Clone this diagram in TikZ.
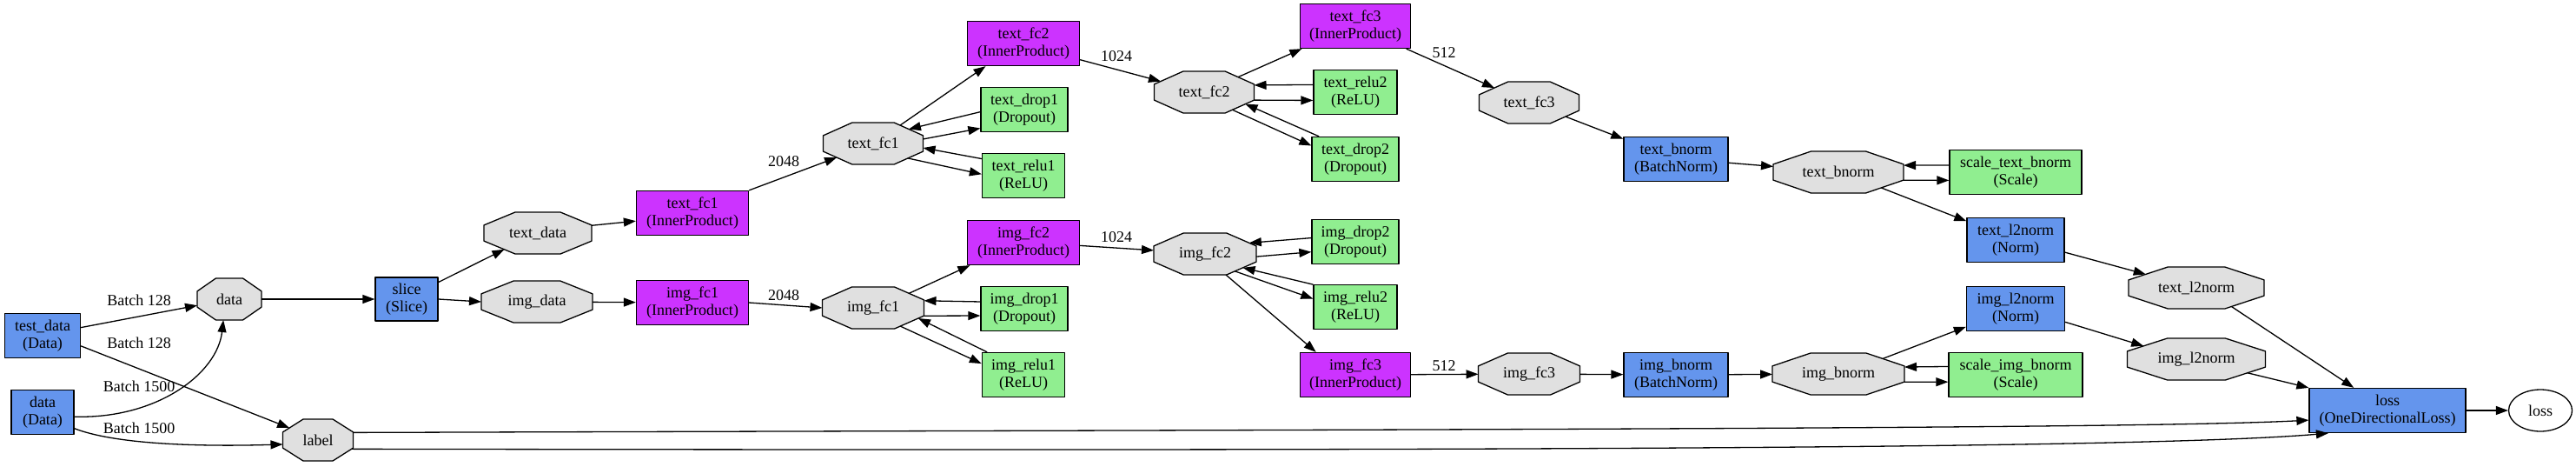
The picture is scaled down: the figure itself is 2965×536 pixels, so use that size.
\documentclass[tikz,border=0pt]{standalone}
\usepackage{fontspec}
\setmainfont{Liberation Serif}
\usetikzlibrary{shapes.geometric,arrows.meta}
\definecolor{layerblue}{HTML}{6495ED}
\definecolor{ipviolet}{HTML}{CC33FF}
\definecolor{neurongreen}{HTML}{90EE90}
\definecolor{blobgray}{HTML}{E0E0E0}
% stretched octagon, as dot draws it
\makeatletter
\pgfdeclareshape{octa}{%
	\inheritsavedanchors[from=rectangle]%
	\inheritanchor[from=rectangle]{center}%
	\inheritanchor[from=rectangle]{text}%
	\inheritanchor[from=rectangle]{base}%
	\inheritanchor[from=rectangle]{mid}%
	\inheritanchor[from=rectangle]{north}%
	\inheritanchor[from=rectangle]{south}%
	\inheritanchor[from=rectangle]{east}%
	\inheritanchor[from=rectangle]{west}%
	\backgroundpath{%
		\southwest \pgf@xa=\pgf@x \pgf@ya=\pgf@y
		\northeast \pgf@xb=\pgf@x \pgf@yb=\pgf@y
		\pgf@xc=\pgf@xb \advance\pgf@xc by -\pgf@xa \pgf@xc=.29\pgf@xc
		\pgf@yc=\pgf@yb \advance\pgf@yc by -\pgf@ya \pgf@yc=.31\pgf@yc
		\edef\oct@xa{\the\pgf@xa}\edef\oct@xb{\the\pgf@xb}%
		\edef\oct@ya{\the\pgf@ya}\edef\oct@yb{\the\pgf@yb}%
		\advance\pgf@xa by \pgf@xc \advance\pgf@xb by -\pgf@xc
		\advance\pgf@ya by \pgf@yc \advance\pgf@yb by -\pgf@yc
		\edef\oct@xc{\the\pgf@xa}\edef\oct@xd{\the\pgf@xb}%
		\edef\oct@yc{\the\pgf@ya}\edef\oct@yd{\the\pgf@yb}%
		\pgfpathmoveto{\pgfqpoint{\oct@xc}{\oct@ya}}%
		\pgfpathlineto{\pgfqpoint{\oct@xd}{\oct@ya}}%
		\pgfpathlineto{\pgfqpoint{\oct@xb}{\oct@yc}}%
		\pgfpathlineto{\pgfqpoint{\oct@xb}{\oct@yd}}%
		\pgfpathlineto{\pgfqpoint{\oct@xd}{\oct@yb}}%
		\pgfpathlineto{\pgfqpoint{\oct@xc}{\oct@yb}}%
		\pgfpathlineto{\pgfqpoint{\oct@xa}{\oct@yd}}%
		\pgfpathlineto{\pgfqpoint{\oct@xa}{\oct@yc}}%
		\pgfpathclose
	}%
	\anchorborder{%
		\edef\oct@dx{\pgf@sys@tonumber\pgf@x}\edef\oct@dy{\pgf@sys@tonumber\pgf@y}%
		\southwest \edef\oct@xa{\pgf@sys@tonumber\pgf@x}\edef\oct@ya{\pgf@sys@tonumber\pgf@y}%
		\northeast \edef\oct@xb{\pgf@sys@tonumber\pgf@x}\edef\oct@yb{\pgf@sys@tonumber\pgf@y}%
		\pgfmathsetmacro\oct@A{((\oct@xb)-(\oct@xa))/2}%
		\pgfmathsetmacro\oct@B{((\oct@yb)-(\oct@ya))/2}%
		\pgfmathsetmacro\oct@len{max(veclen(\oct@dx,\oct@dy),0.0001)}%
		\pgfmathsetmacro\oct@ux{(\oct@dx)/\oct@len}%
		\pgfmathsetmacro\oct@uy{(\oct@dy)/\oct@len}%
		\pgfmathsetmacro\oct@ax{max(abs(\oct@ux),0.01)}%
		\pgfmathsetmacro\oct@ay{max(abs(\oct@uy),0.01)}%
		\pgfmathsetmacro\oct@R{min(min(\oct@A/\oct@ax,\oct@B/\oct@ay),0.8404*\oct@A*\oct@B/(0.62*\oct@B*\oct@ax+0.58*\oct@A*\oct@ay))}%
		\pgfmathsetlength\pgf@x{((\oct@xa)+(\oct@xb))/2+\oct@R*(\oct@ux)}%
		\pgfmathsetlength\pgf@y{((\oct@ya)+(\oct@yb))/2+\oct@R*(\oct@uy)}%
	}%
}
\makeatother
\begin{document}
\begin{tikzpicture}[x=1pt, y=-1pt, font=\fontsize{18}{20}\selectfont, line join=round, line width=1.3pt, >={Triangle[length=14pt,width=10pt]},
	layerbox/.style={draw=black, fill=layerblue, rectangle, align=center, inner sep=0pt, minimum height=51pt, minimum width=#1},
	ip/.style={layerbox=#1, fill=ipviolet},
	neuron/.style={layerbox=#1, fill=neurongreen},
	blob/.style={draw=black, fill=blobgray, octa, inner sep=0pt, outer sep=0pt, minimum height=48pt, minimum width=#1},
	elabel/.style={inner sep=1pt}]
	
	\useasboundingbox (0,0) rectangle (2965,536);
	
	\node[layerbox=87pt] (Ltest) at (49,386) {test\_data\\(Data)};
	\node[layerbox=72pt] (Ldata) at (49,474) {data\\(Data)};
	\node[blob=74pt] (Bdata) at (264,344) {data};
	\node[blob=81pt] (Blabel) at (366,506) {label};
	\node[layerbox=72pt, minimum height=50pt] (Lslice) at (468,344) {slice\\(Slice)};
	\node[blob=124pt] (Btdata) at (619,268) {text\_data};
	\node[blob=128pt] (Bidata) at (618,347) {img\_data};
	\node[ip=129pt] (Ltfc1) at (797,245) {text\_fc1\\(InnerProduct)};
	\node[ip=129pt] (Lifc1) at (797,348) {img\_fc1\\(InnerProduct)};
	\node[blob=115pt] (Btfc1) at (1005,165) {text\_fc1};
	\node[blob=117pt] (Bifc1) at (1005,354) {img\_fc1};
	\node[ip=129pt] (Ltfc2) at (1178,50) {text\_fc2\\(InnerProduct)};
	\node[neuron=100pt] (Ltdrop1) at (1179,126) {text\_drop1\\(Dropout)};
	\node[neuron=95pt] (Ltrelu1) at (1178,202) {text\_relu1\\(ReLU)};
	\node[ip=129pt] (Lifc2) at (1178,279) {img\_fc2\\(InnerProduct)};
	\node[neuron=100pt] (Lidrop1) at (1179,355) {img\_drop1\\(Dropout)};
	\node[neuron=95pt] (Lirelu1) at (1178,431) {img\_relu1\\(ReLU)};
	\node[blob=115pt] (Btfc2) at (1386,106) {text\_fc2};
	\node[blob=118pt] (Bifc2) at (1387,292) {img\_fc2};
	\node[ip=127pt] (Ltfc3) at (1560,30) {text\_fc3\\(InnerProduct)};
	\node[neuron=96pt] (Ltrelu2) at (1560,106) {text\_relu2\\(ReLU)};
	\node[neuron=100pt] (Ltdrop2) at (1560,183) {text\_drop2\\(Dropout)};
	\node[neuron=100pt] (Lidrop2) at (1560,278) {img\_drop2\\(Dropout)};
	\node[neuron=96pt] (Lirelu2) at (1560,353) {img\_relu2\\(ReLU)};
	\node[ip=127pt] (Lifc3) at (1560,431) {img\_fc3\\(InnerProduct)};
	\node[blob=115pt] (Btfc3) at (1760,118) {text\_fc3};
	\node[blob=117pt] (Bifc3) at (1760,430) {img\_fc3};
	\node[layerbox=120pt] (Ltbn) at (1929,183) {text\_bnorm\\(BatchNorm)};
	\node[layerbox=120pt] (Libn) at (1929,431) {img\_bnorm\\(BatchNorm)};
	\node[blob=150pt] (Btbn) at (2116,198) {text\_bnorm};
	\node[blob=152pt] (Bibn) at (2116,430) {img\_bnorm};
	\node[neuron=152pt] (Ltscale) at (2320,198) {scale\_text\_bnorm\\(Scale)};
	\node[layerbox=112pt] (Ltl2) at (2320,276) {text\_l2norm\\(Norm)};
	\node[layerbox=113pt] (Lil2) at (2320,355) {img\_l2norm\\(Norm)};
	\node[neuron=154pt] (Liscale) at (2320,431) {scale\_img\_bnorm\\(Scale)};
	\node[blob=156pt] (Btl2) at (2528,331) {text\_l2norm};
	\node[blob=159pt] (Bil2) at (2528,413) {img\_l2norm};
	\node[layerbox=180pt] (Lloss) at (2748,472) {loss\\(OneDirectionalLoss)};
	\node[draw=black, fill=white, ellipse, inner sep=0pt, minimum width=73pt, minimum height=48pt] (Eloss) at (2924,472) {loss};
	
	\node[elabel] (n1) at (160,345) {Batch 128};
	\node[elabel] (n2) at (160,394) {Batch 128};
	\node[elabel] (n3) at (160,444) {Batch 1500};
	\node[elabel] (n4) at (160,492) {Batch 1500};
	\node[elabel] (n5) at (902,186) {2048};
	\node[elabel] (n6) at (902,340) {2048};
	\node[elabel] (n7) at (1285,65) {1024};
	\node[elabel] (n8) at (1285,273) {1024};
	\node[elabel] (n9) at (1662,61) {512};
	\node[elabel] (n10) at (1662,421) {512};
	
	\draw[->] (Ltest.12) -- (Bdata.191);
	\draw[->] (Ltest.-15) -- (Blabel.157);
	\draw[->] (Ldata.-8) .. controls (180,482) and (250,430) .. (Bdata.254);
	\draw[->] (Ldata.-27) .. controls (130,510) and (220,514) .. (Blabel.187);
	\draw[->] (Bdata) -- (Lslice);
	\draw[->] (Lslice.28) -- (Btdata.206);
	\draw[->] (Lslice.east) -- (Bidata.west);
	\draw[->] (Btdata.8) -- (Ltfc1.188);
	\draw[->] (Bidata) -- (Lifc1);
	\draw[->] (Ltfc1.north east) -- (Btfc1.201);
	\draw[->] (Lifc1.east) -- (Bifc1.west);
	% text branch
	\draw[->] (Btfc1.34) -- (Ltfc2.211);
	\draw[->] (Ltdrop1.183) -- (Btfc1.22);
	\draw[->] (Btfc1.5) -- (Ltdrop1.203);
	\draw[->] (Ltrelu1.158) -- (Btfc1.-5);
	\draw[->] (Btfc1.-23) -- (Ltrelu1.178);
	\draw[->] (Ltfc2.-16) -- (Btfc2.166);
	\draw[->] (Btfc2.24) -- (Ltfc3.203);
	\draw[->] (Ltrelu2.170) -- (Btfc2.8);
	\draw[->] (Btfc2.-9) -- (Ltrelu2.191);
	\draw[->] (Ltdrop2.148) -- (Btfc2.-16);
	\draw[->] (Btfc2.-32) -- (Ltdrop2.163);
	\draw[->] (Ltfc3.-24) -- (Btfc3.157);
	\draw[->] (Btfc3.-21) -- (Ltbn.159);
	\draw[->] (Ltbn.-4) -- (Btbn.175);
	\draw[->] (Ltscale.174) -- (Btbn.6);
	\draw[->] (Btbn.-7) -- (Ltscale.187);
	\draw[->] (Btbn.-20) -- (Ltl2.159);
	\draw[->] (Ltl2.-14) -- (Btl2.165);
	\draw[->] (Btl2.-28) -- (Lloss.146);
	% image branch
	\draw[->] (Bifc1.22) -- (Lifc2.203);
	\draw[->] (Lidrop1.171) -- (Bifc1.8);
	\draw[->] (Bifc1.-9) -- (Lidrop1.189);
	\draw[->] (Lirelu1.148) -- (Bifc1.-13);
	\draw[->] (Bifc1.-34) -- (Lirelu1.165);
	\draw[->] (Lifc2.-3) -- (Bifc2.176);
	\draw[->] (Lidrop2.175) -- (Bifc2.14);
	\draw[->] (Bifc2.-3) -- (Lidrop2.193);
	\draw[->] (Lirelu2.152) -- (Bifc2.-20);
	\draw[->] (Bifc2.-30) -- (Lirelu2.169);
	\draw[->] (Bifc2.-45) -- (Lifc3.150);
	\draw[->] (Lifc3) -- (Bifc3);
	\draw[->] (Bifc3) -- (Libn);
	\draw[->] (Libn) -- (Bibn);
	\draw[->] (Liscale.173) -- (Bibn.6);
	\draw[->] (Bibn.-7) -- (Liscale.186);
	\draw[->] (Bibn.19) -- (Lil2.200);
	\draw[->] (Lil2.-15) -- (Bil2.166);
	\draw[->] (Bil2.-15) -- (Lloss.north west);
	% label to loss
	\draw[->] (Blabel.12) .. controls (1500,494) and (2450,494) .. (Lloss.187);
	\draw[->] (Blabel.-15) .. controls (1500,518) and (2450,518) .. (Lloss.201);
	\draw[->] (Lloss) -- (Eloss);
\end{tikzpicture}
\end{document}
